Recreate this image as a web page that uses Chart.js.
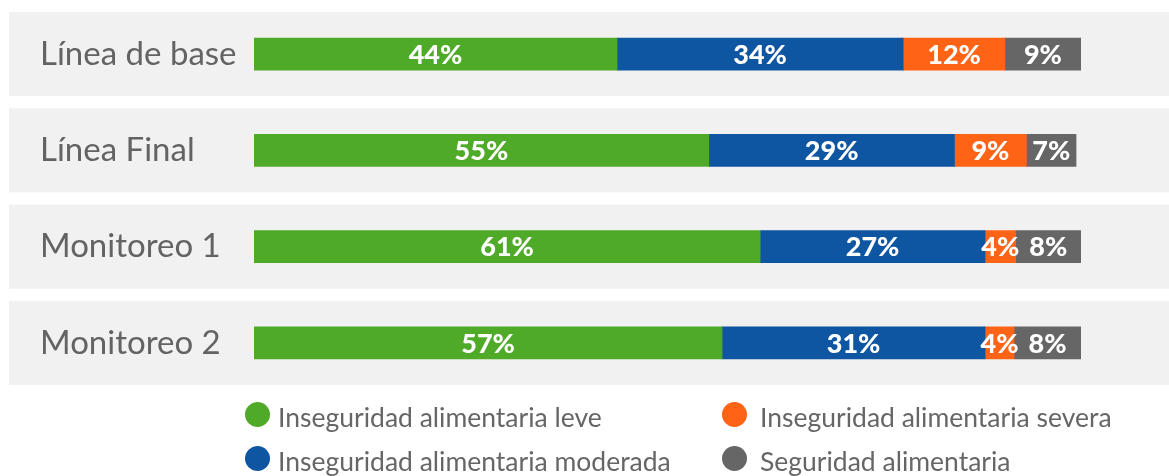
<!DOCTYPE html>
<html>
<head>
<meta charset="utf-8">
<script src="https://cdn.jsdelivr.net/npm/chart.js@4.4.0/dist/chart.umd.min.js"></script>
<style>
    html, body { margin: 0; padding: 0; background: #fff; }
    #wrap { position: relative; width: 1169px; height: 476px; }
    #legend { position: absolute; left: 0; top: 0; width: 1169px; height: 476px; pointer-events: none; }
    .legend-item { position: absolute; display: flex; align-items: center; height: 30px;
        font: 26.5px Lato, sans-serif; color: #666; white-space: nowrap; }
    .legend-dot { width: 25px; height: 25px; border-radius: 50%; flex: none; }
    .legend-text { padding-top: 5px; }
</style>
</head>
<body>
<div id="wrap">
    <canvas id="chart" width="1169" height="476"></canvas>
    <div id="legend"></div>
</div>
<script>
// Categories
const categories = ['Línea de base', 'Línea Final', 'Monitoreo 1', 'Monitoreo 2'];

// Series values (share of households, %)
const leve = [43.9, 55.0, 61.2, 56.6];
const moderada = [34.6, 29.7, 27.2, 31.8];
const severa = [12.3, 8.7, 3.7, 3.5];
const seguridad = [9.2, 6.0, 7.9, 8.1];

// Printed labels on the bars
const leveLabels = ['44%', '55%', '61%', '57%'];
const moderadaLabels = ['34%', '29%', '27%', '31%'];
const severaLabels = ['12%', '9%', '4%', '4%'];
const seguridadLabels = ['9%', '7%', '8%', '8%'];

// Legend placement (two columns, two rows)
const legendSlots = [
    { left: 245, top: 399, gap: 8 },
    { left: 245, top: 443, gap: 8 },
    { left: 722, top: 399, gap: 13 },
    { left: 722, top: 443, gap: 13 }
];

const datasets = [
    { label: 'Inseguridad alimentaria leve', data: leve, printed: leveLabels, backgroundColor: '#4faa28' },
    { label: 'Inseguridad alimentaria moderada', data: moderada, printed: moderadaLabels, backgroundColor: '#0e55a2' },
    { label: 'Inseguridad alimentaria severa', data: severa, printed: severaLabels, backgroundColor: '#ff6315' },
    { label: 'Seguridad alimentaria', data: seguridad, printed: seguridadLabels, backgroundColor: '#666666' }
];

// Grey band behind each row, drawn before the axis labels
const rowBands = {
    id: 'rowBands',
    beforeDraw(chart) {
        const ctx = chart.ctx;
        const y = chart.scales.y;
        ctx.save();
        ctx.fillStyle = '#f1f1f1';
        categories.forEach((c, i) => {
            const cy = y.getPixelForValue(i);
            ctx.fillRect(9, cy - 42, chart.width - 9, 84);
        });
        ctx.restore();
    }
};

// Percent text centred in each segment
const segmentLabels = {
    id: 'segmentLabels',
    afterDatasetsDraw(chart) {
        const ctx = chart.ctx;
        ctx.save();
        ctx.fillStyle = '#fff';
        ctx.font = '900 27px Lato, sans-serif';
        ctx.textAlign = 'center';
        ctx.textBaseline = 'middle';
        chart.data.datasets.forEach((ds, di) => {
            const meta = chart.getDatasetMeta(di);
            meta.data.forEach((bar, i) => {
                const p = bar.getProps(['x', 'y', 'base'], true);
                ctx.fillText(ds.printed[i], (p.x + p.base) / 2, p.y + 1);
            });
        });
        ctx.restore();
    }
};

const chart = new Chart(document.getElementById('chart'), {
    type: 'bar',
    data: {
        labels: categories,
        datasets: datasets
    },
    options: {
        indexAxis: 'y',
        responsive: false,
        animation: false,
        layout: {
            padding: { left: 40, right: 88, top: 6, bottom: 85 }
        },
        datasets: {
            bar: { barThickness: 32, borderWidth: 0 }
        },
        plugins: {
            legend: { display: false },
            tooltip: { enabled: false }
        },
        scales: {
            x: {
                stacked: true,
                display: false,
                min: 0,
                max: 100
            },
            y: {
                stacked: true,
                grid: { display: false },
                border: { display: false },
                afterFit(scale) {
                    scale.width = 214;
                    scale.paddingTop = 0;
                    scale.paddingBottom = 0;
                },
                ticks: {
                    crossAlign: 'far',
                    color: '#636363',
                    font: { family: 'Lato', size: 33 }
                }
            }
        }
    },
    plugins: [rowBands, segmentLabels]
});

// HTML legend built from the datasets
const legend = document.getElementById('legend');
chart.data.datasets.forEach((ds, i) => {
    const slot = legendSlots[i];
    const item = document.createElement('div');
    item.className = 'legend-item';
    item.style.left = slot.left + 'px';
    item.style.top = slot.top + 'px';
    item.innerHTML = `<span class="legend-dot" style="background:${ds.backgroundColor};margin-right:${slot.gap}px"></span><span class="legend-text">${ds.label}</span>`;
    legend.appendChild(item);
});
</script>
</body>
</html>
